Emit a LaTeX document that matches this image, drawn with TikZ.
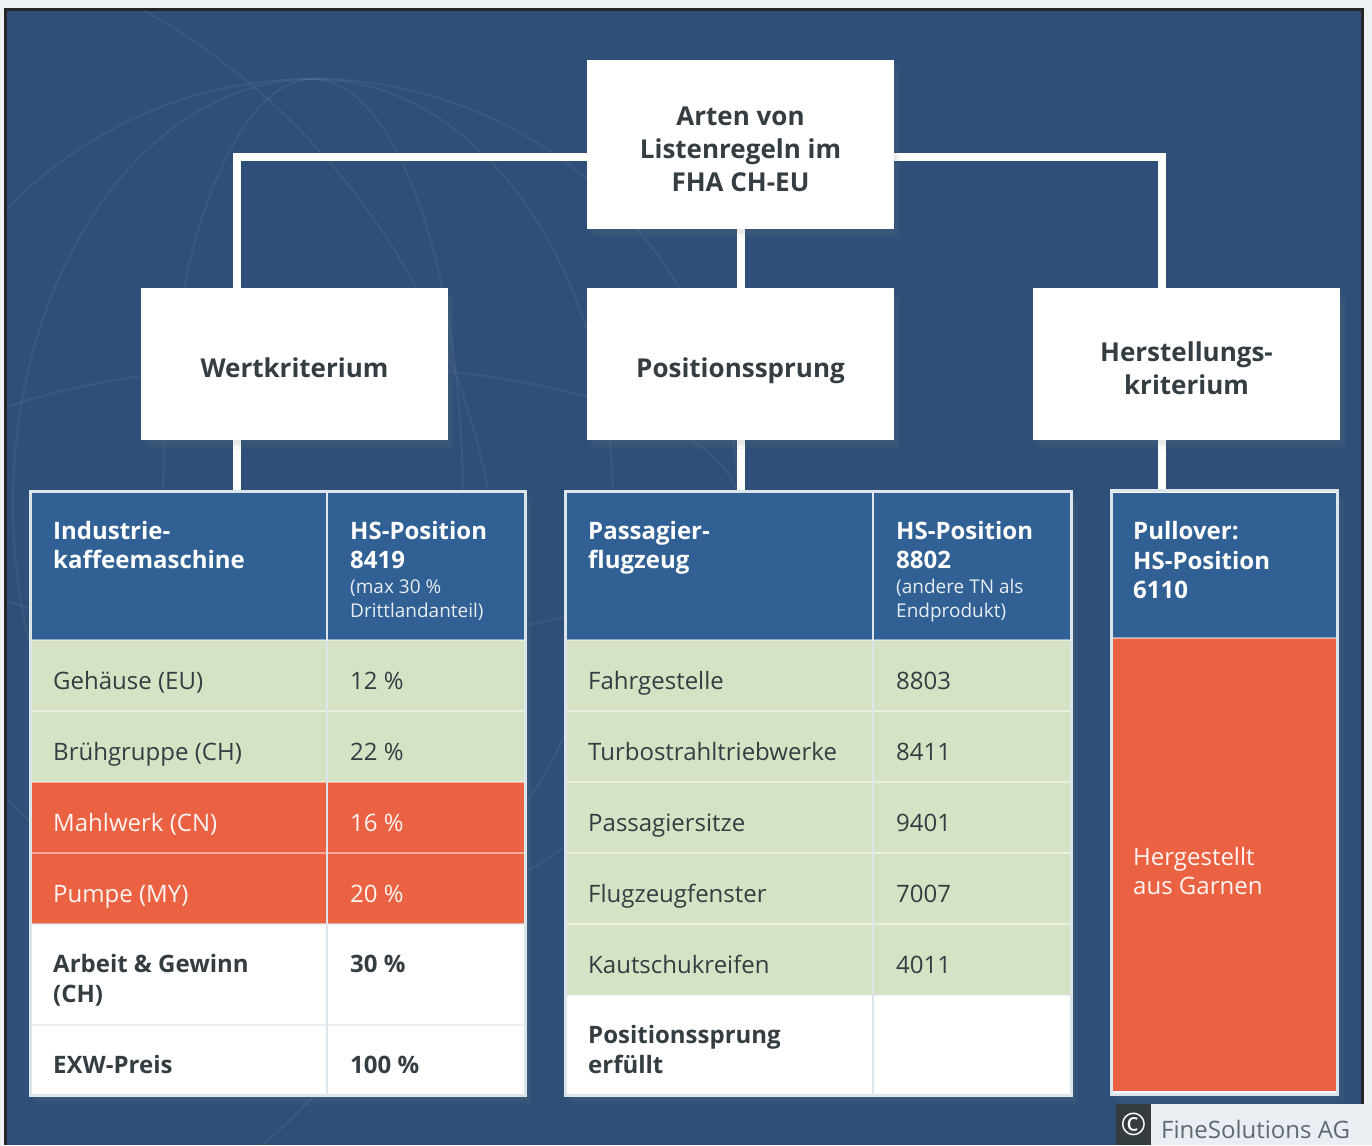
\documentclass[tikz,border=0pt]{standalone}
\usepackage{fontspec}
\setmainfont{Open Sans}
\usetikzlibrary{shadows}
\definecolor{bgblue}{HTML}{2E5078}
\definecolor{hdblue}{HTML}{316194}
\definecolor{rowgreen}{HTML}{D5E2C4}
\definecolor{roworange}{HTML}{EB6243}
\definecolor{txt}{HTML}{343E42}
\definecolor{tframe}{HTML}{DCE5EC}
\definecolor{copydark}{HTML}{343C40}
\definecolor{copylight}{HTML}{E8EEF1}
\definecolor{copytxt}{HTML}{5F6A70}
\definecolor{outer}{HTML}{EEF1F3}
\pgfdeclarelayer{back}
\pgfsetlayers{back,main}
\begin{document}
\begin{tikzpicture}[x=1pt,y=-1pt,
  conn/.style={draw=white, line width=8pt, line join=miter},
  shadowed/.style={drop shadow={opacity=0.10, shadow xshift=3pt, shadow yshift=-5pt},
                   drop shadow={opacity=0.07, shadow xshift=6pt, shadow yshift=-9pt}},
  boxshape/.style={fill=white, minimum width=307pt, minimum height=#1, inner sep=0pt, shadowed},
  boxtxt/.style={font=\bfseries\fontsize{26}{33}\selectfont, text=txt, align=center, inner sep=0pt},
  tabframe/.style={fill=white, draw=tframe, line width=3pt, inner sep=0pt, shadowed},
  hd/.style={anchor=base west, text=white, font=\bfseries\fontsize{24}{29}\selectfont, inner sep=0pt},
  hdsub/.style={anchor=base west, text=white!88!hdblue, font=\fontsize{19}{24}\selectfont, inner sep=0pt},
  cell/.style={anchor=base west, text=txt, font=\fontsize{24}{29}\selectfont, inner sep=0pt},
  cellw/.style={cell, text=white!93!roworange},
  cellb/.style={anchor=base west, text=txt, font=\bfseries\fontsize{24}{29}\selectfont, inner sep=0pt},
  divl/.style={draw=tframe, line width=2pt},
  sepg/.style={draw=white, draw opacity=0.45, line width=1.5pt},
  sepw/.style={draw=tframe, draw opacity=0.6, line width=1.5pt},
  globe/.style={draw=white, draw opacity=0.05, line width=2pt}
]
\useasboundingbox (0,0) rectangle (1372,1145);

% ---------- boxes ----------
\node[boxshape=169pt] (top) at (740.5,144.5) {};
\node[boxtxt] (topT) at (740.5,149) {Arten von\\Listenregeln im\\FHA CH-EU};
\node[boxshape=152pt] (wert) at (294.5,364) {};
\node[boxtxt] (wertT) at (294.5,368) {Wertkriterium};
\node[boxshape=152pt] (pos) at (740.5,364) {};
\node[boxtxt] (posT) at (740.5,371) {Positionssprung};
\node[boxshape=152pt] (herst) at (1186.5,364) {};
\node[boxtxt] (herstT) at (1186.5,368) {Herstellungs-\\kriterium};

% ---------- tables ----------
\node[tabframe, minimum width=495pt, minimum height=604pt] (tabL) at (278,793.5) {};
\node[tabframe, minimum width=506pt, minimum height=604pt] (tabM) at (818.5,793.5) {};
\node[tabframe, minimum width=226pt, minimum height=604pt] (tabR) at (1224.5,792.5) {};

% left table cells
\fill[hdblue] (32,493) rectangle (524,640);
\fill[rowgreen] (32,640) rectangle (524,782);
\fill[roworange] (32,782) rectangle (524,924);
\draw[sepg] (32,640) -- (524,640);
\draw[sepg] (32,711) -- (524,711);
\draw[sepg] (32,782) -- (524,782);
\draw[sepg] (32,853) -- (524,853);
\draw[sepw] (32,924) -- (524,924);
\draw[sepw] (32,1025) -- (524,1025);
\draw[divl] (327,493) -- (327,1094);

% middle table cells
\fill[hdblue] (567,493) rectangle (1070,640);
\fill[rowgreen] (567,640) rectangle (1070,995);
\foreach \yy in {640,711,782,853,924} {\draw[sepg] (567,\yy) -- (1070,\yy);}
\draw[sepw] (567,995) -- (1070,995);
\draw[divl] (873,493) -- (873,1094);

% right table cells
\fill[hdblue] (1113,493) rectangle (1336,638);
\fill[roworange] (1113,638) rectangle (1336,1091);
\draw[sepg] (1113,638) -- (1336,638);

% ---------- left table text ----------
\node[hd] (l11) at (53,539) {Industrie-};
\node[hd] (l12) at (53,568) {kaffeemaschine};
\node[hd] (l21) at (350,539) {HS-Position};
\node[hd] (l22) at (350,568) {8419};
\node[hdsub] (l23) at (350,593) {(max 30 \%};
\node[hdsub] (l24) at (350,617) {Drittlandanteil)};
\node[cell] (la1) at (53,689) {Gehäuse (EU)};
\node[cell] (lb1) at (350,689) {12 \%};
\node[cell] (la2) at (53,760) {Brühgruppe (CH)};
\node[cell] (lb2) at (350,760) {22 \%};
\node[cellw] (la3) at (53,831) {Mahlwerk (CN)};
\node[cellw] (lb3) at (350,831) {16 \%};
\node[cellw] (la4) at (53,902) {Pumpe (MY)};
\node[cellw] (lb4) at (350,902) {20 \%};
\node[cellb] (la5) at (53,972) {Arbeit \& Gewinn};
\node[cellb] (la5b) at (53,1002) {(CH)};
\node[cellb] (lb5) at (350,972) {30 \%};
\node[cellb] (la6) at (53,1073) {EXW-Preis};
\node[cellb] (lb6) at (350,1073) {100 \%};

% ---------- middle table text ----------
\node[hd] (m11) at (588,539) {Passagier-};
\node[hd] (m12) at (588,568) {flugzeug};
\node[hd] (m21) at (896,539) {HS-Position};
\node[hd] (m22) at (896,568) {8802};
\node[hdsub] (m23) at (896,593) {(andere TN als};
\node[hdsub] (m24) at (896,617) {Endprodukt)};
\node[cell] (ma1) at (588,689) {Fahrgestelle};
\node[cell] (mb1) at (896,689) {8803};
\node[cell] (ma2) at (588,760) {Turbostrahltriebwerke};
\node[cell] (mb2) at (896,760) {8411};
\node[cell] (ma3) at (588,831) {Passagiersitze};
\node[cell] (mb3) at (896,831) {9401};
\node[cell] (ma4) at (588,902) {Flugzeugfenster};
\node[cell] (mb4) at (896,902) {7007};
\node[cell] (ma5) at (588,973) {Kautschukreifen};
\node[cell] (mb5) at (896,973) {4011};
\node[cellb] (ma6) at (588,1043) {Positionssprung};
\node[cellb] (ma6b) at (588,1073) {erfüllt};

% ---------- right table text ----------
\node[hd] (r1) at (1133,539) {Pullover:};
\node[hd] (r2) at (1133,569) {HS-Position};
\node[hd] (r3) at (1133,598) {6110};
\node[cellw] (r4) at (1133,865) {Hergestellt};
\node[cellw] (r5) at (1133,894) {aus Garnen};

% ---------- copyright ----------
\fill[copylight] (1151,1104) rectangle (1372,1145);
\node[fill=copydark, minimum width=35pt, minimum height=41pt, inner sep=0pt, text=white,
      font=\fontsize{31}{31}\selectfont] (cpy) at (1133.5,1124.5) {©};
\node[anchor=base west, inner sep=0pt, text=copytxt, font=\fontsize{24}{24}\selectfont] (cpt) at (1161,1138) {FineSolutions AG};

% ---------- background + connectors ----------
\coordinate (cl) at (237,0);
\coordinate (cr) at (1162,0);
\coordinate (hy) at (0,157);
\begin{pgfonlayer}{back}
  \fill[outer] (0,0) rectangle (1372,1145);
  \fill[black!85] (4,8) rectangle (1364,1145);
  \fill[bgblue] (7,11) rectangle (1361,1145);
  \begin{scope}
    \clip (7,11) rectangle (1361,1145);
    \draw[globe] (313,504) circle (425pt);
    \draw[globe] (313,504) ellipse (150pt and 425pt);
    \draw[globe] (313,504) ellipse (300pt and 425pt);
    \draw[globe] (313,504) ellipse (425pt and 140pt);
    \draw[globe] (-200,620) circle (700pt);
  \end{scope}
  \draw[conn] (wert.north -| cl) -- (cl |- hy) -- (cr |- hy) -- (herst.north -| cr);
  \draw[conn] (top.south) -- (pos.north);
  \draw[conn] (wert.south -| cl) -- (tabL.north -| cl);
  \draw[conn] (pos.south) -- (pos.south |- tabM.north);
  \draw[conn] (herst.south -| cr) -- (tabR.north -| cr);
\end{pgfonlayer}
\end{tikzpicture}
\end{document}
